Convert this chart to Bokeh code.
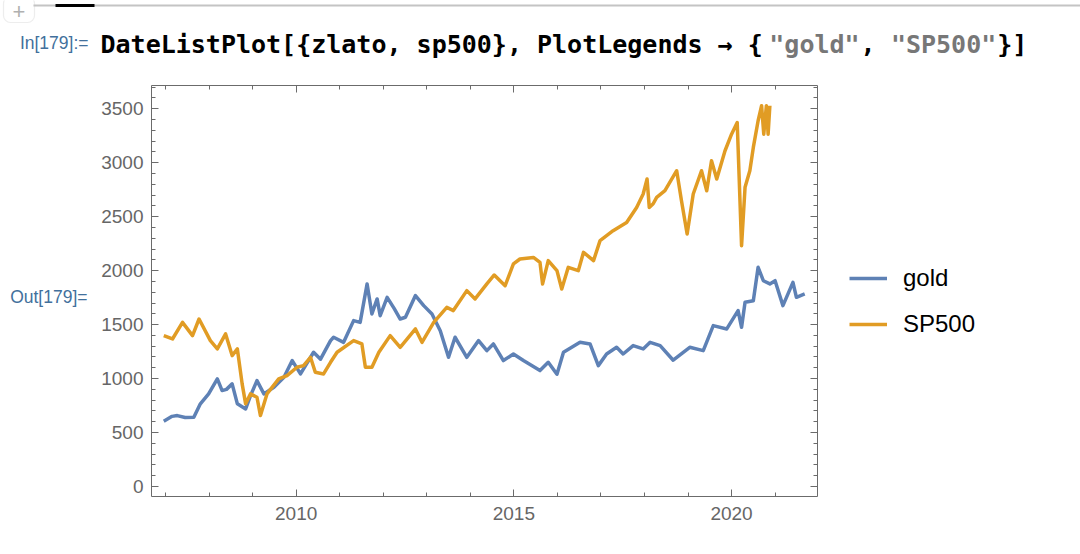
from bokeh.plotting import figure
from bokeh.layouts import column, row
from bokeh.models import (FixedTicker, LinearAxis, Range1d, Legend, LegendItem,
                          Label, BoxAnnotation, ColumnDataSource)
from bokeh.embed import file_html
from bokeh.resources import INLINE

# ---------------- data ----------------
gold_t = [2006.96, 2007.15, 2007.27, 2007.45, 2007.65, 2007.8, 2007.99, 2008.19, 2008.3, 2008.4,
          2008.53, 2008.65, 2008.84, 2008.95, 2009.1, 2009.26, 2009.49, 2009.72, 2009.91, 2010.1,
          2010.4, 2010.56, 2010.79, 2010.86, 2011.09, 2011.32, 2011.47, 2011.63, 2011.74, 2011.86,
          2011.93, 2012.09, 2012.25, 2012.39, 2012.51, 2012.74, 2012.93, 2013.12, 2013.31, 2013.5,
          2013.65, 2013.92, 2014.19, 2014.38, 2014.53, 2014.76, 2014.99, 2015.22, 2015.6, 2015.79,
          2015.99, 2016.14, 2016.52, 2016.75, 2016.94, 2017.13, 2017.36, 2017.51, 2017.74, 2017.97,
          2018.13, 2018.36, 2018.66, 2019.04, 2019.35, 2019.58, 2019.89, 2020.15, 2020.23, 2020.31,
          2020.5, 2020.61, 2020.73, 2020.88, 2021.0, 2021.18, 2021.41, 2021.49, 2021.68]
gold_v = [605, 650, 657, 640, 642, 766, 858, 997, 889, 900,
          951, 766, 719, 840, 981, 858, 920, 1012, 1167, 1043,
          1244, 1180, 1352, 1383, 1336, 1537, 1521, 1877, 1599, 1738,
          1583, 1753, 1650, 1552, 1568, 1769, 1676, 1599, 1444, 1197,
          1383, 1197, 1352, 1259, 1321, 1167, 1228, 1167, 1074, 1151,
          1040, 1244, 1336, 1321, 1120, 1228, 1290, 1228, 1306, 1275,
          1336, 1306, 1170, 1290, 1259, 1491, 1460, 1630, 1475, 1707,
          1722, 2031, 1907, 1877, 1907, 1676, 1892, 1753, 1784]

sp_t = [2006.96, 2007.16, 2007.39, 2007.62, 2007.77, 2008.03, 2008.19, 2008.38, 2008.53, 2008.65,
        2008.76, 2008.84, 2008.95, 2009.1, 2009.18, 2009.33, 2009.6, 2009.79, 2010.02, 2010.17,
        2010.33, 2010.44, 2010.63, 2010.79, 2010.94, 2011.32, 2011.51, 2011.59, 2011.74, 2011.9,
        2012.16, 2012.39, 2012.74, 2012.89, 2013.16, 2013.46, 2013.61, 2013.92, 2014.11, 2014.38,
        2014.55, 2014.8, 2014.99, 2015.14, 2015.45, 2015.6, 2015.66, 2015.79, 2015.99, 2016.1,
        2016.25, 2016.48, 2016.6, 2016.83, 2016.98, 2017.28, 2017.59, 2017.82, 2017.97, 2018.06,
        2018.11, 2018.2, 2018.28, 2018.47, 2018.74, 2018.85, 2018.98, 2019.12, 2019.31, 2019.43,
        2019.54, 2019.66, 2019.85, 2020.0, 2020.13, 2020.23, 2020.31, 2020.42, 2020.5, 2020.61,
        2020.69, 2020.74, 2020.8, 2020.84, 2020.88]
sp_v = [1398, 1367, 1521, 1398, 1552, 1352, 1275, 1414, 1213, 1275,
        951, 766, 858, 827, 657, 858, 997, 1028, 1105, 1120,
        1197, 1058, 1043, 1151, 1244, 1352, 1321, 1105, 1105, 1244,
        1398, 1290, 1460, 1336, 1521, 1660, 1630, 1815, 1738, 1877,
        1960, 1861, 2062, 2108, 2123, 2077, 1877, 2093, 2000, 1830,
        2031, 2000, 2170, 2093, 2278, 2370, 2447, 2586, 2710, 2849,
        2586, 2620, 2679, 2741, 2926, 2648, 2340, 2710, 2926, 2741,
        3019, 2849, 3111, 3265, 3373, 2231, 2772, 2926, 3142, 3389,
        3528, 3265, 3528, 3265, 3528]

series_names = ["gold", "SP500"]
series_colors = ["#5E81B5", "#E19C24"]
x_major = [2010, 2015, 2020]
x_minor = list(range(2007, 2022))
y_major = [0, 500, 1000, 1500, 2000, 2500, 3000, 3500]
y_minor = list(range(0, 3800, 100))

sources = [ColumnDataSource(dict(t=gold_t, v=gold_v)),
           ColumnDataSource(dict(t=sp_t, v=sp_v))]

# ---------------- geometry ----------------
W, H = 1080, 554
HEAD = 62            # height of the header strip (input line)
OUTW = 92            # width of the "Out[...]" strip
FL, FR, FT, FB = 151, 817, 85, 496   # frame edges on the page
RB = 20              # right border of the chart (holds the right frame axis)
LEGX = FR + RB       # left edge of the legend strip on the page

AX = "#6b6b6b"
TICKFONT = "Liberation Sans"
LBL = "#42709c"


def blank(width, height, x0, x1, y0, y1):
    f = figure(width=width, height=height, x_range=Range1d(x0, x1), y_range=Range1d(y0, y1),
               x_axis_type=None, y_axis_type=None, output_backend="svg",
               toolbar_location=None, min_border=0)
    f.outline_line_color = None
    f.xgrid.visible = False
    f.ygrid.visible = False
    return f


# ---------------- header (input line) ----------------
head = blank(W, HEAD, 0, W, HEAD, 0)   # y grows downward, page pixels
head.add_layout(BoxAnnotation(left=33, right=W, top=4, bottom=6,
                              fill_color="#c4c4c4", fill_alpha=1, line_color=None))
head.add_layout(BoxAnnotation(left=55, right=94, top=3.5, bottom=6.5,
                              fill_color="black", fill_alpha=1, line_color=None))
head.add_layout(BoxAnnotation(left=3, right=34, top=-4, bottom=22,
                              fill_alpha=0, line_color="#c4c4c4", line_width=1.2,
                              border_radius=7))
head.add_layout(Label(x=18.5, y=11, text="+", text_align="center", text_baseline="middle",
                      text_font=TICKFONT, text_font_size="22px", text_color="#b0b0b0"))
head.add_layout(Label(x=88, y=42, text="In[179]:=", text_align="right",
                      text_baseline="alphabetic", text_font=TICKFONT,
                      text_font_size="17.5px", text_color=LBL))

code_parts = [("DateListPlot[{zlato, sp500}, PlotLegends → {", "black"),
              ('"gold"', "#777777"), (", ", "black"), ('"SP500"', "#777777"), ("}]", "black")]
CW = 15.2
cx = 100
for txt, col in code_parts:
    head.add_layout(Label(x=cx, y=44, text=txt, text_align="left", text_baseline="alphabetic",
                          text_font="DejaVu Sans Mono", text_font_style="bold",
                          text_font_size="25px", text_color=col))
    cx += CW * len(txt)

# ---------------- "Out" strip ----------------
outf = blank(OUTW, H - HEAD, 0, OUTW, H, HEAD)
outf.add_layout(Label(x=87, y=315, text="Out[179]=", text_align="right",
                      text_baseline="alphabetic", text_font=TICKFONT,
                      text_font_size="17.5px", text_color=LBL))

# ---------------- chart ----------------
p = figure(frame_width=FR - FL, frame_height=FB - FT,
           min_border_left=FL - OUTW, min_border_right=RB,
           min_border_top=FT - HEAD, min_border_bottom=H - FB,
           x_range=Range1d(2006.678, 2021.974), y_range=Range1d(-92.6, 3715.7),
           x_axis_type=None, y_axis_type=None,
           output_backend="svg", toolbar_location=None)
p.outline_line_color = None
p.xgrid.visible = False
p.ygrid.visible = False


def style(ax, labels=True):
    ax.axis_line_color = AX
    ax.major_tick_line_color = AX
    ax.minor_tick_line_color = AX
    ax.major_tick_in = 7
    ax.major_tick_out = 0
    ax.minor_tick_in = 4
    ax.minor_tick_out = 0
    ax.major_label_text_color = "#666666"
    ax.major_label_text_font = TICKFONT
    ax.major_label_text_font_size = "19px"
    if not labels:
        ax.major_label_overrides = {t: "" for t in ax.ticker.ticks}
        ax.major_label_standoff = 0


xt = FixedTicker(ticks=x_major, minor_ticks=x_minor)
yt = FixedTicker(ticks=y_major, minor_ticks=y_minor)

bottom = LinearAxis(ticker=xt)
style(bottom)
bottom.major_label_standoff = 10
p.add_layout(bottom, "below")

top = LinearAxis(ticker=xt)
style(top, labels=False)
p.add_layout(top, "above")

left = LinearAxis(ticker=yt)
style(left)
left.major_label_standoff = 8
p.add_layout(left, "left")

right = LinearAxis(ticker=yt)
style(right, labels=False)
p.add_layout(right, "right")

for src, col in zip(sources, series_colors):
    p.line("t", "v", source=src, line_width=3.5, color=col, line_join="round")

# ---------------- legend strip (same series sources; lie outside its ranges) ----------------
legf = blank(W - LEGX, H - HEAD, 0, W - LEGX, H, HEAD)
leg_items = []
for name, src, col in zip(series_names, sources, series_colors):
    r = legf.line("t", "v", source=src, line_width=3.5, color=col)
    leg_items.append(LegendItem(label=name, renderers=[r]))
legend = Legend(items=leg_items,
                location=(849 - LEGX, 158),
                border_line_color=None, background_fill_alpha=0,
                label_text_font=TICKFONT, label_text_font_size="24px",
                label_text_color="black",
                glyph_width=38, glyph_height=28, label_height=28,
                label_standoff=16, spacing=18, padding=0, margin=0)
legf.add_layout(legend, "center")

page = column(head, row(outf, p, legf, spacing=0), spacing=0)

open("out.html", "w").write(file_html(page, INLINE))
